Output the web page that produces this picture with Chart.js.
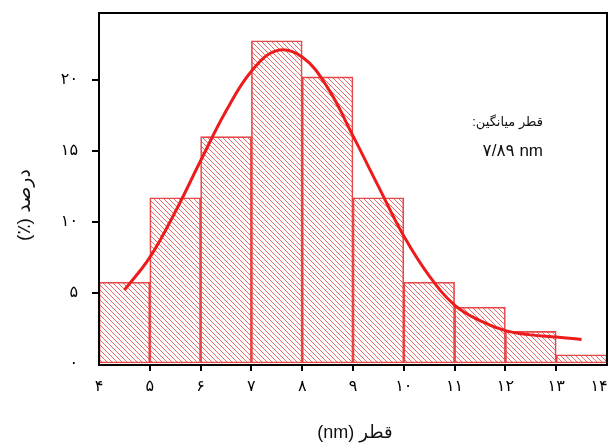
<!DOCTYPE html>
<html>
<head>
<meta charset="utf-8">
<script src="https://cdn.jsdelivr.net/npm/chart.js@4/dist/chart.umd.min.js"></script>
<style>
  html, body { margin: 0; padding: 0; background: #fff; }
  canvas { display: block; }
</style>
</head>
<body>
<canvas id="canvas" width="609" height="444"></canvas>
<script>
// histogram bins (centre of each 1 nm bin) and percentage in each bin
const binCenters = [4.5, 5.5, 6.5, 7.5, 8.5, 9.5, 10.5, 11.5, 12.5, 13.5];
const percents = [5.75, 11.7, 16.0, 22.75, 20.2, 11.7, 5.75, 4.0, 2.3, 0.65];

// fitted distribution curve
const curveX = [4.5, 5.0, 5.5, 6.0, 6.5, 7.0, 7.5, 8.0, 8.5, 9.0, 9.5, 10.0, 10.5, 11.0, 11.5, 12.0, 12.5, 13.0, 13.5];
const curveY = [5.2, 7.5, 10.7, 14.3, 17.8, 20.6, 22.05, 21.6, 19.45, 16.05, 12.5, 9.0, 6.2, 4.15, 3.05, 2.35, 2.05, 1.9, 1.72];

const yTicks = [0, 5, 10, 15, 20];
const xTicks = [4, 5, 6, 7, 8, 9, 10, 11, 12, 13, 14];

const meanLabel = 'قطر میانگین:';
const meanValue = '۷/۸۹ nm';
const xTitle = 'قطر (nm)';
const yTitle = 'درصد (٪)';

const fa = n => String(n).replace(/\d/g, d => '۰۱۲۳۴۵۶۷۸۹'[d]);
const FONT = '"Liberation Sans", "DejaVu Sans", sans-serif';

// diagonal hatch fill for the bars
function hatch() {
  const c = document.createElement('canvas');
  c.width = 5; c.height = 5;
  const g = c.getContext('2d');
  g.strokeStyle = 'rgba(226, 60, 60, 0.75)';
  g.lineWidth = 1;
  g.beginPath();
  g.moveTo(-1, -1); g.lineTo(6, 6);
  g.moveTo(-1, 4); g.lineTo(1, 6);
  g.moveTo(4, -1); g.lineTo(6, 1);
  g.stroke();
  return g.createPattern(c, 'repeat');
}

const frameAndText = {
  id: 'frameAndText',
  afterDraw(chart) {
    const { ctx, chartArea: a } = chart;
    ctx.save();
    ctx.strokeStyle = '#000';
    ctx.lineWidth = 2;
    ctx.strokeRect(a.left, a.top, a.right - a.left, a.bottom - a.top + 1);

    ctx.fillStyle = '#111';
    ctx.textBaseline = 'middle';
    ctx.textAlign = 'right';
    ctx.font = '13px ' + FONT;
    ctx.direction = 'rtl';
    ctx.fillText(meanLabel, 543, 122);
    ctx.font = '17px ' + FONT;
    ctx.direction = 'ltr';
    ctx.fillText(meanValue, 543, 151);

    ctx.direction = 'rtl';
    ctx.textAlign = 'center';
    ctx.font = '18px ' + FONT;
    ctx.fillText(xTitle, 355, 433);

    ctx.font = '19px ' + FONT;
    ctx.translate(25, 205);
    ctx.rotate(-Math.PI / 2);
    ctx.fillText(yTitle, 0, 0);
    ctx.restore();
  }
};

new Chart('canvas', {
  type: 'bar',
  data: {
    datasets: [
      {
        type: 'line',
        data: curveX.map((x, i) => ({ x, y: curveY[i] })),
        borderColor: '#ec1c1c',
        borderWidth: 3,
        pointRadius: 0,
        tension: 0.4,
        order: 0
      },
      {
        type: 'bar',
        data: binCenters.map((x, i) => ({ x, y: percents[i] })),
        backgroundColor: hatch(),
        borderColor: 'rgba(228, 40, 40, 0.85)',
        borderWidth: 1,
        borderSkipped: false,
        barPercentage: 1,
        categoryPercentage: 1,
        grouped: false,
        order: 1
      }
    ]
  },
  options: {
    responsive: false,
    animation: false,
    devicePixelRatio: 1,
    layout: { padding: { top: 13, right: 2, left: 0, bottom: 0 } },
    plugins: { legend: { display: false }, tooltip: { enabled: false } },
    scales: {
      x: {
        type: 'linear',
        min: 4,
        max: 14,
        offset: false,
        afterBuildTicks: s => { s.ticks = xTicks.map(v => ({ value: v })); },
        ticks: {
          // last label pushed inward so it stays on the canvas
          callback: v => v === 14 ? fa(v) + '\u2003' : fa(v),
          font: { family: FONT, size: 16 },
          color: '#000',
          padding: 6,
          maxRotation: 0,
          autoSkip: false
        },
        grid: {
          offset: false,
          drawOnChartArea: false,
          tickLength: 7,
          lineWidth: 2,
          color: c => (c.tick && (c.tick.value === 4 || c.tick.value === 14)) ? 'transparent' : '#000'
        },
        border: { display: false },
        afterFit(s) { s.height = 80; s.paddingLeft = 0; s.paddingRight = 0; }
      },
      y: {
        min: 0,
        max: 24.7,
        afterBuildTicks: s => { s.ticks = yTicks.map(v => ({ value: v })); },
        ticks: {
          callback: v => fa(v),
          font: { family: FONT, size: 16 },
          color: '#000',
          padding: 14
        },
        grid: {
          drawOnChartArea: false,
          tickLength: 7,
          lineWidth: 2,
          color: c => (c.tick && c.tick.value === 0) ? 'transparent' : '#000'
        },
        border: { display: false },
        afterFit(s) { s.width = 99; s.paddingTop = 0; s.paddingBottom = 0; }
      }
    }
  },
  plugins: [frameAndText]
});
</script>
</body>
</html>
